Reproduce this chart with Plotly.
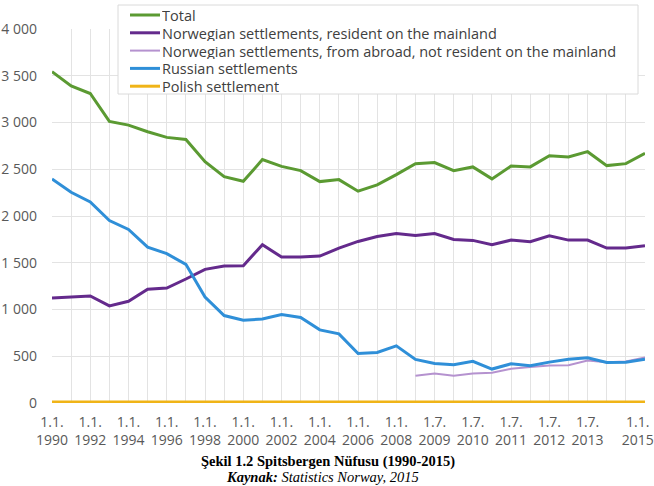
import plotly.graph_objects as go

categories = [
    "1.1.1990", "1.1.1991", "1.1.1992", "1.1.1993", "1.1.1994", "1.1.1995",
    "1.1.1996", "1.1.1997", "1.1.1998", "1.1.1999", "1.1.2000", "1.1.2001",
    "1.1.2002", "1.1.2003", "1.1.2004", "1.1.2005", "1.1.2006", "1.1.2007",
    "1.1.2008", "1.1.2009", "1.7.2009", "1.1.2010", "1.7.2010", "1.1.2011",
    "1.7.2011", "1.1.2012", "1.7.2012", "1.1.2013", "1.7.2013", "1.1.2014",
    "1.7.2014", "1.1.2015",
]

total = [3544, 3392, 3310, 3011, 2972, 2901, 2841, 2819, 2581, 2421, 2371,
         2603, 2531, 2485, 2368, 2389, 2265, 2333, 2443, 2560, 2571, 2485,
         2525, 2397, 2535, 2525, 2645, 2631, 2688, 2539, 2560, 2670]

norwegian_mainland = [1123, 1134, 1145, 1038, 1088, 1216, 1230, 1326, 1429,
                      1465, 1469, 1693, 1561, 1561, 1571, 1657, 1728, 1781,
                      1813, 1792, 1813, 1749, 1739, 1693, 1742, 1725, 1789,
                      1742, 1742, 1657, 1657, 1682]

norwegian_abroad = [None] * 19 + [291, 316, 291, 316, 324, 366, 384, 402,
                                  405, 455, 437, 445, 487]

russian = [2397, 2254, 2151, 1952, 1856, 1667, 1597, 1483, 1134, 935, 885,
           899, 946, 914, 782, 739, 530, 541, 611, 466, 423, 409, 445, 363,
           419, 398, 437, 469, 483, 434, 437, 469]

polish = [10] * 32

series_names = [
    "Total",
    "Norwegian settlements, resident on the mainland",
    "Norwegian settlements, from abroad, not resident on the mainland",
    "Russian settlements",
    "Polish settlement",
]

y_tickvals = [0, 500, 1000, 1500, 2000, 2500, 3000, 3500, 4000]
y_ticktext = ["0", "500", "1 000", "1 500", "2 000", "2 500", "3 000", "3 500", "4 000"]

labeled_idx = list(range(0, 29, 2)) + [31]
x_ticktext = []
for i, c in enumerate(categories):
    if i in labeled_idx:
        d, m, y = c.split(".")
        if i == len(categories) - 1:
            pad = "&nbsp;" * 4
            x_ticktext.append(f"{d}.{m}.{pad}<br>{y}{pad}")
        else:
            x_ticktext.append(f"{d}.{m}.<br>{y}")
    else:
        x_ticktext.append("")

colors = ["#5b9a32", "#642a8c", "#b592cf", "#2f8fd8", "#f0b417"]
widths = [3, 3, 2, 3, 3]
data = [total, norwegian_mainland, norwegian_abroad, russian, polish]

W, H = 654, 486
ML, MR, MT, MB = 52, 9, 29, 83
PW, PH = W - ML - MR, H - MT - MB


def px(xpix):
    return (xpix - ML) / PW


def py(ypix):
    return (H - MB - ypix) / PH


fig = go.Figure()
for name, vals, col, w in zip(series_names, data, colors, widths):
    fig.add_trace(go.Scatter(
        x=categories, y=vals, name=name, mode="lines",
        line=dict(color=col, width=w), connectgaps=False,
        showlegend=False,
    ))

font_family = "Open Sans"

# custom legend (box, line samples, labels)
shapes = [dict(type="rect", xref="paper", yref="paper",
               x0=px(118), x1=px(638), y0=py(5), y1=py(94),
               fillcolor="white", line=dict(color="#dadada", width=1),
               layer="above")]
annotations = []
for k, (name, col, w) in enumerate(zip(series_names, colors, widths)):
    yc = 15 + 17.8 * k
    shapes.append(dict(type="line", xref="paper", yref="paper",
                       x0=px(130), x1=px(160), y0=py(yc), y1=py(yc),
                       line=dict(color=col, width=w), layer="above"))
    annotations.append(dict(text=name, xref="paper", yref="paper",
                            x=px(161), y=py(yc), xanchor="left",
                            yanchor="middle", showarrow=False,
                            height=16, borderpad=0, valign="middle",
                            font=dict(family=font_family, size=14.5,
                                      color="#404040")))

annotations += [
    dict(text="<b>Şekil 1.2 Spitsbergen Nüfusu (1990-2015)</b>",
         xref="paper", yref="paper", x=px(328), y=py(461),
         xanchor="center", yanchor="middle", showarrow=False,
         font=dict(family="Liberation Serif", size=14.5, color="black")),
    dict(text="<b><i>Kaynak:</i></b><i> Statistics Norway, 2015</i>",
         xref="paper", yref="paper", x=px(322), y=py(477),
         xanchor="center", yanchor="middle", showarrow=False,
         font=dict(family="Liberation Serif", size=14.5, color="black")),
]

fig.update_layout(
    width=W, height=H,
    margin=dict(l=ML, r=MR, t=MT, b=MB, autoexpand=False),
    paper_bgcolor="white", plot_bgcolor="white",
    font=dict(family=font_family, size=14, color="#595959"),
    showlegend=False,
    xaxis=dict(
        type="category", range=[0, 31], automargin=False,
        tickmode="array", tickvals=categories, ticktext=x_ticktext,
        tickangle=0,
        showgrid=True, gridcolor="#e3e3e3", gridwidth=1,
        showline=False, zeroline=False, ticks="",
        tickfont=dict(size=14, color="#595959"),
        ticklabelstandoff=9,
    ),
    yaxis=dict(
        range=[0, 4000], tickmode="array", automargin=False,
        tickvals=y_tickvals, ticktext=y_ticktext,
        showgrid=True, gridcolor="#e3e3e3", gridwidth=1,
        zeroline=False, showline=False, ticks="",
        tickfont=dict(size=14, color="#595959"),
        ticklabelstandoff=14,
    ),
    shapes=shapes,
    annotations=annotations,
)

fig.write_html("out.html")
